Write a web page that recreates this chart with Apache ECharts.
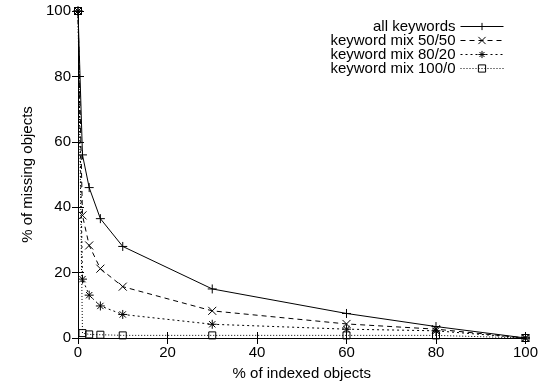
<!DOCTYPE html>
<html>
<head>
<meta charset="utf-8">
<script src="https://cdn.jsdelivr.net/npm/echarts@6/dist/echarts.min.js"></script>
<style>
  html, body { margin: 0; padding: 0; background: #fff; }
  #main { width: 541px; height: 387px; }
</style>
</head>
<body>
<div id="main"></div>
<script>
// data
var xValues = [0, 1, 2.5, 5, 10, 30, 60, 80, 100];
var seriesNames = ['all keywords', 'keyword mix 50/50', 'keyword mix 80/20', 'keyword mix 100/0'];
var allKeywords = [100, 56, 46, 36.5, 28, 15, 7.5, 3.5, 0];
var mix5050 = [100, 37.5, 28.3, 21.2, 15.7, 8.3, 4.3, 2.7, 0];
var mix8020 = [100, 18, 13.1, 9.8, 7.2, 4.2, 2.7, 2.2, 0];
var mix1000 = [100, 1.5, 1.1, 1, 0.8, 0.8, 0.8, 0.8, 0];
var tickValues = [0, 20, 40, 60, 80, 100];

var chart = echarts.init(document.getElementById('main'));
var font = 'Liberation Sans, Arial, Helvetica, sans-serif';

// gnuplot style point types
var plus = 'path://M0,5L10,5M5,0L5,10';
var cross = 'path://M0,0L10,10M10,0L0,10';
var star = 'path://M0,5L10,5M5,0L5,10M1.5,1.5L8.5,8.5M8.5,1.5L1.5,8.5';
var square = 'path://M0,0L10,0L10,10L0,10Z';

function pairs(ys) {
    return xValues.map(function (x, i) { return [x, ys[i]]; });
}

function makeSeries(name, ys, symbol, size, dash) {
    return {
        name: name,
        type: 'line',
        data: pairs(ys),
        symbol: symbol,
        symbolSize: size,
        showAllSymbol: true,
        animation: false,
        lineStyle: { color: '#000', width: 1, type: dash },
        itemStyle: { color: 'rgba(0,0,0,0)', borderColor: '#000', borderWidth: 1 },
        emphasis: { disabled: true }
    };
}

// inward ticks on all four sides, like gnuplot's border
function axisBase(pos, showLabel) {
    return {
        type: 'value',
        position: pos,
        min: 0,
        max: 100,
        interval: 20,
        axisLine: { show: true, lineStyle: { color: '#000', width: 1 } },
        axisTick: { show: true, inside: true, length: 6, lineStyle: { color: '#000' } },
        splitLine: { show: false },
        axisLabel: {
            show: showLabel,
            color: '#000',
            fontFamily: font,
            fontSize: 15,
            margin: 7,
            formatter: function (v) { return tickValues.indexOf(v) >= 0 ? String(v) : ''; }
        }
    };
}

var xBottom = axisBase('bottom', true);
xBottom.name = '% of indexed objects';
xBottom.nameLocation = 'middle';
xBottom.nameGap = 28;
xBottom.nameTextStyle = { color: '#000', fontFamily: font, fontSize: 15 };

var yLeft = axisBase('left', true);
yLeft.name = '% of missing objects';
yLeft.nameLocation = 'middle';
yLeft.nameGap = 42;
yLeft.nameTextStyle = { color: '#000', fontFamily: font, fontSize: 15 };

option = {
    backgroundColor: '#fff',
    animation: false,
    grid: { left: 78, right: 15, top: 11, bottom: 49 },
    legend: {
        orient: 'vertical',
        right: 32,
        top: 14,
        align: 'right',
        itemWidth: 43,
        itemHeight: 9,
        itemGap: -1,
        lineStyle: { width: 1 },
        itemStyle: { borderWidth: 1 },
        textStyle: { color: '#000', fontFamily: font, fontSize: 15, lineHeight: 11 },
        data: seriesNames
    },
    xAxis: [xBottom, axisBase('top', false)],
    yAxis: [yLeft, axisBase('right', false)],
    series: [
        makeSeries(seriesNames[0], allKeywords, plus, 9, 'solid'),
        makeSeries(seriesNames[1], mix5050, cross, 8, [5, 4]),
        makeSeries(seriesNames[2], mix8020, star, 9, [2, 3]),
        makeSeries(seriesNames[3], mix1000, square, 7, [1, 2])
    ]
};

chart.setOption(option);
</script>
</body>
</html>
